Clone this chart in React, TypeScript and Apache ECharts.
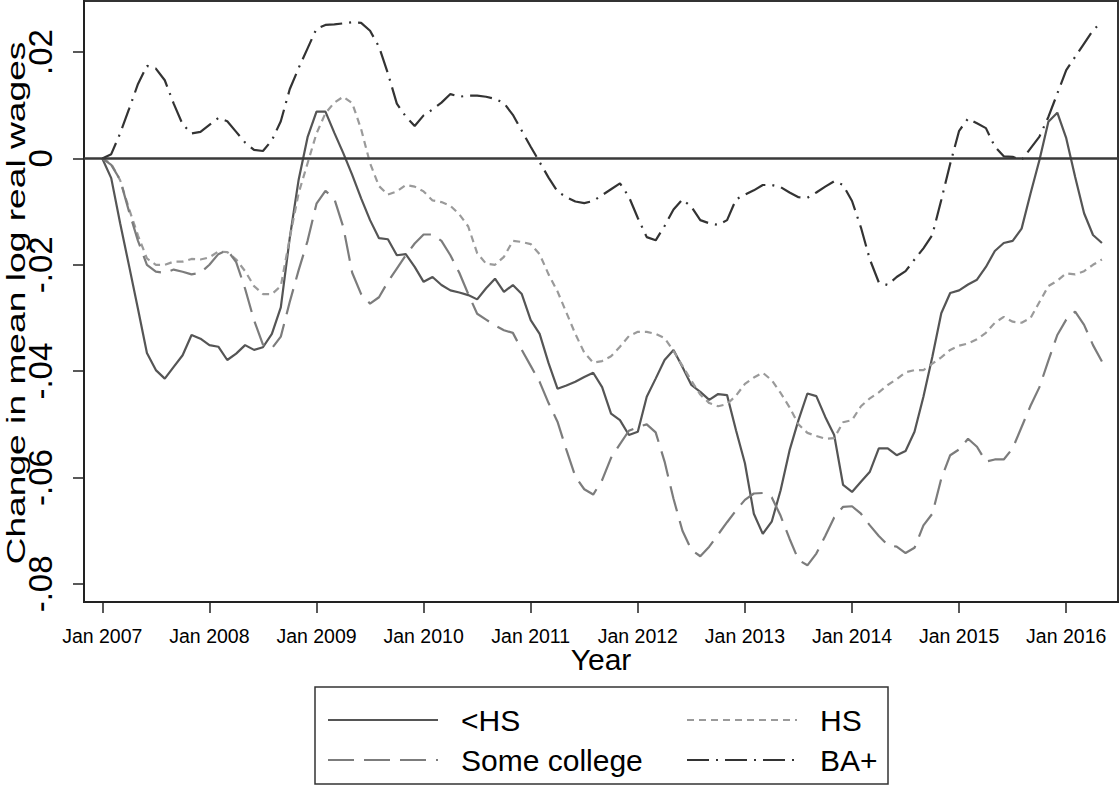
import React, { useEffect, useRef } from "react";
import * as echarts from "echarts";

const seriesNames = ["<HS", "HS", "Some college", "BA+"];
const tickLabels = ["Jan 2007", "Jan 2008", "Jan 2009", "Jan 2010", "Jan 2011", "Jan 2012", "Jan 2013", "Jan 2014", "Jan 2015", "Jan 2016"];
const yTicks = [-0.08, -0.06, -0.04, -0.02, 0, 0.02];
const yTitle = "Change in mean log real wages";

// monthly values, Jan 2007 .. May 2016
const lessHS = [
  0, -0.0037, -0.0122, -0.0202, -0.0283, -0.0366, -0.0398, -0.0414, -0.0392, -0.037,
  -0.0332, -0.0339, -0.0351, -0.0354, -0.0379, -0.0367, -0.0351, -0.036, -0.0355, -0.033,
  -0.028, -0.015, -0.004, 0.004, 0.0088, 0.0088, 0.0048, 0.001, -0.0031, -0.0075,
  -0.0116, -0.015, -0.0152, -0.0182, -0.018, -0.0204, -0.0232, -0.0223, -0.0238, -0.0248,
  -0.0252, -0.0257, -0.0265, -0.0244, -0.0226, -0.0251, -0.0238, -0.0255, -0.0304, -0.033,
  -0.0385, -0.0433, -0.0427, -0.042, -0.0411, -0.0403, -0.043, -0.048, -0.0492, -0.052,
  -0.0514, -0.0448, -0.0414, -0.0379, -0.036, -0.0392, -0.0426, -0.0439, -0.0454, -0.0443,
  -0.0445, -0.0511, -0.0573, -0.0668, -0.0706, -0.0683, -0.0624, -0.0549, -0.0492, -0.0442,
  -0.0447, -0.0486, -0.052, -0.0614, -0.0627, -0.0608, -0.0589, -0.0545, -0.0545, -0.0558,
  -0.055, -0.0514, -0.0448, -0.0373, -0.0291, -0.0253, -0.0248, -0.0237, -0.0228, -0.0204,
  -0.0174, -0.0159, -0.0155, -0.0132, -0.0066, -0.0003, 0.0069, 0.0086, 0.0038, -0.0035,
  -0.0103, -0.0144, -0.0159,
];
const hs = [
  0, -0.001, -0.0041, -0.0095, -0.0145, -0.0188, -0.02, -0.02, -0.0194, -0.0194,
  -0.0189, -0.019, -0.0186, -0.0175, -0.0176, -0.019, -0.0212, -0.024, -0.0255, -0.0255,
  -0.024, -0.015, -0.0065, -0.0009, 0.0047, 0.0085, 0.0105, 0.0116, 0.0104, 0.0055,
  -0.0009, -0.0052, -0.0068, -0.0062, -0.005, -0.0053, -0.0062, -0.0079, -0.0082, -0.0089,
  -0.0105, -0.0128, -0.0178, -0.0198, -0.02, -0.0185, -0.0155, -0.0157, -0.0161, -0.018,
  -0.0218, -0.025, -0.029, -0.033, -0.0365, -0.0384, -0.0381, -0.0372, -0.0354, -0.0334,
  -0.0326, -0.0326, -0.033, -0.0338, -0.0362, -0.039, -0.0418, -0.0444, -0.046, -0.0466,
  -0.0462, -0.0446, -0.0424, -0.0412, -0.0403, -0.0417, -0.0441, -0.0468, -0.05, -0.0516,
  -0.0522, -0.0527, -0.0526, -0.0496, -0.0492, -0.0466, -0.0451, -0.044, -0.0426, -0.0415,
  -0.0402, -0.0398, -0.0398, -0.0386, -0.0374, -0.036, -0.0352, -0.0348, -0.034, -0.0328,
  -0.0309, -0.0298, -0.0307, -0.0309, -0.03, -0.027, -0.024, -0.023, -0.0216, -0.0218,
  -0.0212, -0.02, -0.019,
];
const someCollege = [
  0, -0.0012, -0.004, -0.01, -0.0155, -0.02, -0.0213, -0.0215, -0.0209, -0.0213,
  -0.0218, -0.0215, -0.02, -0.018, -0.0172, -0.0195, -0.0245, -0.0304, -0.035, -0.0357,
  -0.0335, -0.027, -0.021, -0.0155, -0.0085, -0.0061, -0.0076, -0.0129, -0.0215, -0.0255,
  -0.0273, -0.0261, -0.0232, -0.0207, -0.0182, -0.016, -0.0143, -0.0143, -0.0155, -0.0182,
  -0.0215, -0.0255, -0.0292, -0.0303, -0.0314, -0.0323, -0.0328, -0.036, -0.039, -0.042,
  -0.046, -0.0495, -0.0548, -0.0598, -0.0622, -0.0632, -0.0605, -0.0563, -0.0537, -0.0512,
  -0.0505, -0.05, -0.0515, -0.057, -0.064, -0.07, -0.0736, -0.0748, -0.073, -0.0707,
  -0.0684, -0.0662, -0.0642, -0.063, -0.0629, -0.0637, -0.0672, -0.0715, -0.0755, -0.0765,
  -0.0743, -0.071, -0.0675, -0.0655, -0.0654, -0.0668, -0.069, -0.071, -0.0727, -0.073,
  -0.0742, -0.0732, -0.069, -0.0668, -0.0602, -0.0558, -0.0547, -0.0527, -0.0542, -0.057,
  -0.0566, -0.0566, -0.0545, -0.0505, -0.0465, -0.043, -0.038, -0.0332, -0.0303, -0.0288,
  -0.0313, -0.0351, -0.0382,
];
const baPlus = [
  0, 0.0008, 0.0047, 0.0093, 0.014, 0.0174, 0.0169, 0.0147, 0.0103, 0.0064,
  0.0047, 0.005, 0.0063, 0.0076, 0.007, 0.005, 0.003, 0.0016, 0.0014, 0.0034,
  0.007, 0.013, 0.017, 0.0207, 0.0244, 0.0251, 0.0252, 0.0254, 0.0256, 0.0255,
  0.024, 0.021, 0.016, 0.0103, 0.0079, 0.0061, 0.0081, 0.0092, 0.0105, 0.0121,
  0.0116, 0.0118, 0.0118, 0.0116, 0.0112, 0.0104, 0.0082, 0.0052, 0.0022, -0.0007,
  -0.0036, -0.0062, -0.0073, -0.0081, -0.0084, -0.008, -0.0069, -0.0058, -0.0047, -0.0072,
  -0.0112, -0.0148, -0.0154, -0.0127, -0.0096, -0.0077, -0.0091, -0.0116, -0.0122, -0.0125,
  -0.0116, -0.0077, -0.0068, -0.006, -0.005, -0.005, -0.0054, -0.0064, -0.0073, -0.0074,
  -0.0064, -0.0053, -0.0043, -0.005, -0.008, -0.013, -0.019, -0.0233, -0.0238, -0.0223,
  -0.0212, -0.019, -0.0169, -0.0144, -0.0078, -0.001, 0.0052, 0.0075, 0.0066, 0.0057,
  0.0022, 0.0004, 0.0003, -0.0003, 0.0019, 0.0041, 0.0078, 0.0122, 0.0166, 0.0191,
  0.0216, 0.0241, 0.0257,
];

const seriesValues = [lessHS, hs, someCollege, baPlus];
const seriesColors = ["#555555", "#9a9a9a", "#7c7c7c", "#333333"];
const seriesDash: any[] = ["solid", [7, 5], [26, 10], [22, 7, 2, 7]];

const FONT = "'Liberation Sans', Arial, Helvetica, sans-serif";

export default function App() {
  const ref = useRef<HTMLDivElement>(null);
  useEffect(() => {
    if (!ref.current) return;
    const chart = echarts.init(ref.current, undefined, { renderer: "svg" });
    const series: any[] = seriesNames.map((name, i) => ({
      name,
      type: "line",
      symbol: "none",
      showSymbol: false,
      data: seriesValues[i].map((v, m) => [m, v]),
      lineStyle: { color: seriesColors[i], width: 2.2, type: seriesDash[i] },
      itemStyle: { color: seriesColors[i] },
      z: 3,
    }));
    series.push({
      name: "zero",
      type: "line",
      data: [],
      z: 2,
      markLine: {
        silent: true,
        symbol: "none",
        label: { show: false },
        lineStyle: { color: "#3a3a3a", width: 2.5, type: "solid" },
        data: [{ yAxis: 0 }],
      },
    });
    const legendBase = {
      orient: "vertical",
      top: 705,
      padding: 0,
      itemWidth: 110,
      itemHeight: 14,
      itemGap: 10,
      itemStyle: { opacity: 0, color: "rgba(0,0,0,0)", borderWidth: 0 },
      textStyle: { fontFamily: FONT, fontSize: 30, color: "#000", padding: [0, 0, 0, 18] },
    };
    chart.setOption({
      animation: false,
      backgroundColor: "#ffffff",
      grid: {
        left: 84,
        right: 2,
        top: 1,
        bottom: 191,
        show: true,
        borderColor: "#333",
        borderWidth: 2,
        containLabel: false,
        outerBoundsMode: "none",
      },
      xAxis: {
        type: "value",
        min: -2.05,
        max: 113.8,
        name: "Year",
        nameLocation: "middle",
        nameGap: 42,
        nameMoveOverlap: false,
        nameTextStyle: { fontFamily: FONT, fontSize: 30, color: "#000", verticalAlign: "top" },
        axisLine: { show: true, onZero: false, lineStyle: { color: "#222", width: 2 } },
        axisTick: {
          show: true,
          length: 11,
          lineStyle: { color: "#222", width: 1.5 },
          customValues: tickLabels.map((_, i) => i * 12),
        },
        axisLabel: {
          margin: 24,
          fontFamily: FONT,
          fontSize: 19.5,
          color: "#000",
          customValues: tickLabels.map((_, i) => i * 12),
          formatter: (val: number) => tickLabels[Math.round(val / 12)] ?? "",
        },
        splitLine: { show: false },
      },
      yAxis: {
        type: "value",
        min: -0.0834,
        max: 0.0296,
        axisLine: { show: true, onZero: false, lineStyle: { color: "#222", width: 2 } },
        axisTick: {
          show: true,
          length: 11,
          lineStyle: { color: "#222", width: 1.5 },
          customValues: yTicks,
        },
        axisLabel: {
          rotate: 90,
          margin: 27,
          fontFamily: FONT,
          fontSize: 33,
          color: "#000",
          customValues: yTicks,
          formatter: (v: number) => {
            const r = Math.round(v * 100) / 100;
            if (r === 0) return "0";
            return r.toFixed(2).replace("0.", ".");
          },
        },
        splitLine: { show: false },
      },
      legend: [
        { ...legendBase, data: ["<HS", "Some college"], left: 327 },
        { ...legendBase, data: ["HS", "BA+"], left: 686 },
      ],
      graphic: [
        {
          type: "text",
          x: 16,
          y: 303,
          rotation: Math.PI / 2,
          scaleX: 1.43,
          silent: true,
          style: {
            text: yTitle,
            fontFamily: FONT,
            fontSize: 26,
            fill: "#000",
            align: "center",
            verticalAlign: "middle",
          },
        },
        {
          type: "rect",
          shape: { x: 315, y: 687, width: 573, height: 97 },
          style: { fill: "none", stroke: "#333", lineWidth: 1.5 },
          silent: true,
        },
      ],
      series,
    });
    return () => chart.dispose();
  }, []);
  return (
    <div
      ref={ref}
      style={{ position: "fixed", left: 0, top: 0, width: 1120, height: 793, background: "#fff" }}
    />
  );
}
